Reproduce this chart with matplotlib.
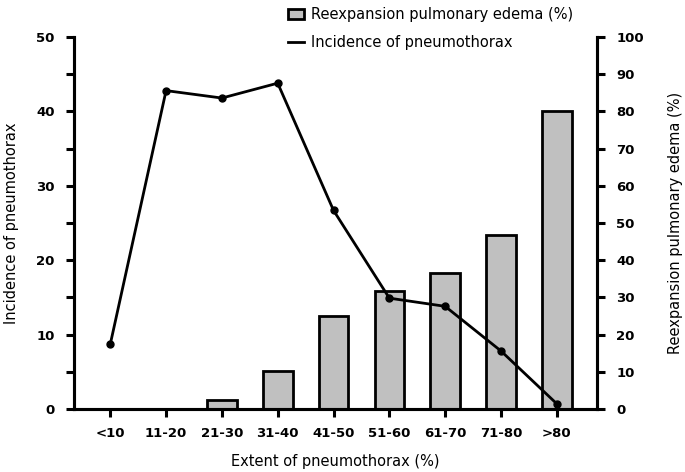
import matplotlib
matplotlib.use("Agg")
import matplotlib.pyplot as plt
from matplotlib.patches import Patch
from matplotlib.lines import Line2D
import numpy as np

categories = ["<10", "11-20", "21-30", "31-40", "41-50", "51-60", "61-70", "71-80", ">80"]
edema_pct = [0, 0, 2.4, 10.2, 25.0, 31.8, 36.6, 46.8, 80.2]
incidence = [8.7, 42.8, 41.8, 43.8, 26.7, 14.9, 13.8, 7.8, 0.7]

plt.rcParams['font.family'] = ['DejaVu Sans']

fig = plt.figure(figsize=(6.85, 4.72), dpi=100)
ax = fig.add_axes([0.108, 0.1335, 0.7635, 0.788])
ax2 = ax.twinx()

x = np.arange(len(categories))

ax2.bar(x, edema_pct, width=0.53, color="#c0c0c0", edgecolor="black", linewidth=2, zorder=1)
ax2.set_ylim(0, 100)
ax2.set_yticks(np.arange(0, 101, 10))

ax.set_zorder(ax2.get_zorder() + 1)
ax.patch.set_visible(False)
ax.plot(x, incidence, color="black", linewidth=2, marker="o", markersize=5, zorder=3)
ax.set_ylim(0, 50)
ax.set_yticks(np.arange(0, 51, 10))
ax.set_yticks(np.arange(5, 50, 10), minor=True)
ax.set_xlim(-0.65, 8.72)
ax.set_xticks(x)
ax.set_xticklabels(categories)

for a in (ax, ax2):
    a.spines['top'].set_visible(False)
    for s in ('left', 'right', 'bottom'):
        a.spines[s].set_linewidth(2.2)
    a.tick_params(width=2.2, length=6, labelsize=9.5)
    a.tick_params(which='minor', width=2.2, length=6)
    for lab in a.get_yticklabels() + a.get_xticklabels():
        lab.set_fontweight('bold')

ax.tick_params(axis='y', pad=8)
ax2.tick_params(axis='y', pad=8)
ax.tick_params(axis='x', pad=7)

ax.set_xlabel("Extent of pneumothorax (%)", fontsize=10.5, labelpad=10)
ax.set_ylabel("Incidence of pneumothorax", fontsize=10.5, labelpad=12)
ax2.set_ylabel("Reexpansion pulmonary edema (%)", fontsize=10.5, labelpad=17)

handles = [Patch(facecolor="#c0c0c0", edgecolor="black", linewidth=2),
           Line2D([0], [0], color="black", linewidth=2)]
fig.legend(handles, ["Reexpansion pulmonary edema (%)", "Incidence of pneumothorax"],
           loc="upper left", bbox_to_anchor=(0.401, 1.013), frameon=False,
           fontsize=10.5, handlelength=1.1, handletextpad=0.5, labelspacing=0.9)

fig.savefig("out.png", dpi=100)
